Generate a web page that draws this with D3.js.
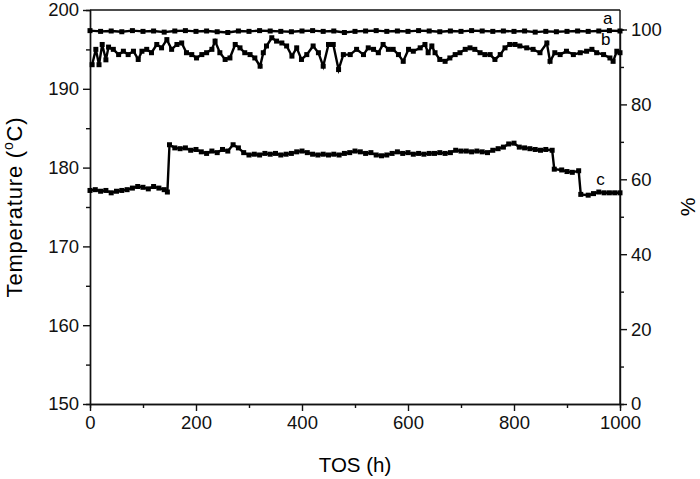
<!DOCTYPE html>
<html>
<head>
<meta charset="utf-8">
<script src="https://cdn.jsdelivr.net/npm/d3@7"></script>
<style>
  body { margin: 0; background: #fff; }
  svg { font-family: "Liberation Sans", Arial, sans-serif; }
  .axis text { font-size: 18.5px; fill: #111; }
  .axis path, .axis line { stroke: #111; stroke-width: 1.4; }
</style>
</head>
<body>
<svg width="700" height="479"></svg>
<script>
// series a (%), right axis
var tosA = [0,20,40,60,80,100,120,140,160,180,200,220,240,260,280,300,320,340,360,380,400,420,440,460,480,500,520,540,560,580,600,620,640,660,680,700,720,740,760,780,800,820,840,860,880,900,920,940,960,980,1000];
var valA = [99.7,99.5,99.6,99.4,99.7,99.5,99.6,99.3,99.6,99.7,99.5,99.6,99.4,99.2,99.6,99.5,99.7,99.6,99.5,99.4,99.6,99.7,99.5,99.6,99.2,99.5,99.6,99.7,99.5,99.6,99.5,99.7,99.6,99.4,99.6,99.5,99.7,99.6,99.5,99.6,99.5,99.6,99.3,99.5,99.4,99.5,99.6,99.5,99.6,99.7,99.6];

// series b (%), right axis
var tosB = [4,11,17,23,30,35,44,54,63,72,82,91,98,107,116,126,135,145,154,164,173,182,192,201,211,220,230,236,245,255,264,274,283,292,302,311,321,327,333,343,352,362,371,381,390,399,409,421,431,440,450,459,469,478,491,503,516,525,535,544,553,563,572,582,591,601,610,623,632,638,645,651,660,670,679,689,698,708,717,726,736,745,755,764,774,783,792,802,811,824,836,849,862,868,877,887,899,912,925,937,947,956,969,981,987,994,1000];
var valB = [90.6,94.7,90.6,96.0,91.9,95.3,94.7,93.3,94.2,93.3,94.2,92.0,94.2,94.7,93.8,96.0,95.1,97.3,94.7,96.0,96.4,93.8,93.3,92.4,93.3,93.8,94.7,96.9,93.8,92.0,92.4,96.0,95.1,93.8,93.3,92.4,90.2,93.8,95.6,97.8,96.9,96.4,95.6,92.9,95.1,92.0,93.3,95.6,93.8,90.2,96.0,96.0,89.3,93.3,93.3,94.7,93.3,95.1,94.7,93.8,96.0,94.7,94.7,93.3,91.5,94.7,94.2,95.1,96.0,93.8,95.6,93.8,92.0,91.5,92.4,93.3,93.8,94.7,95.1,94.7,93.8,93.3,93.3,92.0,93.3,95.1,96.0,96.0,95.6,95.1,94.7,93.8,96.4,91.5,93.8,93.3,94.2,93.3,93.8,94.2,94.7,93.8,93.3,92.4,91.5,94.2,93.8];

// series c (temperature, left axis)
var tosC = [0,10,20,30,40,50,60,70,80,90,100,110,120,130,140,146,150,160,170,180,190,200,210,220,230,240,250,260,270,280,290,300,310,320,330,340,350,360,370,380,390,400,410,420,430,440,450,460,470,480,490,500,510,520,530,540,550,560,570,580,590,600,610,620,630,640,650,660,670,680,690,700,710,720,730,740,750,760,770,780,790,800,810,820,830,840,850,860,872,876,890,900,910,922,926,940,950,960,970,980,990,1000];
var valC = [177.1,177.2,177.0,177.1,176.8,177.0,177.1,177.2,177.4,177.6,177.5,177.3,177.6,177.4,177.2,176.9,182.9,182.5,182.4,182.5,182.2,182.3,182.0,181.8,182.1,181.9,182.3,182.1,182.9,182.5,181.9,181.6,181.7,181.6,181.8,181.7,181.8,181.6,181.7,181.8,182.0,182.1,181.9,181.7,181.6,181.7,181.6,181.7,181.6,181.8,181.9,182.1,182.0,181.8,181.9,181.6,181.5,181.6,181.8,182.0,181.8,181.9,181.7,181.8,181.7,181.8,181.8,181.9,181.8,181.9,182.2,182.1,182.1,182.0,182.1,182.0,181.9,182.2,182.4,182.6,183.0,183.1,182.6,182.5,182.4,182.3,182.2,182.3,182.2,179.8,179.7,179.5,179.4,179.6,176.6,176.5,176.7,176.9,176.8,176.8,176.8,176.8];

var tempTicks = [150,160,170,180,190,200];
var pctTicks = [0,20,40,60,80,100];
var tosTicks = [0,200,400,600,800,1000];

var svg = d3.select("svg"),
    mLeft = 90, mRight = 620, mTop = 10, mBottom = 404;

var x = d3.scaleLinear().domain([0, 1000]).range([mLeft, mRight]);
var yT = d3.scaleLinear().domain([150, 200]).range([mBottom, mTop]);
var yP = d3.scaleLinear().domain([0, 100]).range([mBottom, 29.5]);

// frame top
svg.append("line")
    .attr("x1", mLeft).attr("x2", mRight)
    .attr("y1", mTop).attr("y2", mTop)
    .attr("stroke", "#111").attr("stroke-width", 1.4);

// minor ticks
svg.append("g").attr("class", "axis")
    .attr("transform", "translate(0," + mBottom + ")")
    .call(d3.axisBottom(x).tickValues([100,300,500,700,900]).tickSize(4).tickFormat(""));
svg.append("g").attr("class", "axis")
    .attr("transform", "translate(" + mLeft + ",0)")
    .call(d3.axisLeft(yT).tickValues([155,165,175,185,195]).tickSize(4).tickFormat(""));
svg.append("g").attr("class", "axis")
    .attr("transform", "translate(" + mRight + ",0)")
    .call(d3.axisRight(yP).tickValues([10,30,50,70,90]).tickSize(4).tickFormat(""));

// major axes
svg.append("g").attr("class", "axis")
    .attr("transform", "translate(0," + mBottom + ")")
    .call(d3.axisBottom(x).tickValues(tosTicks).tickSize(7).tickSizeOuter(0).tickPadding(5).tickFormat(d3.format("d")));
svg.append("g").attr("class", "axis")
    .attr("transform", "translate(" + mLeft + ",0)")
    .call(d3.axisLeft(yT).tickValues(tempTicks).tickSize(7).tickSizeOuter(0).tickPadding(4));
var ra = svg.append("g").attr("class", "axis")
    .attr("transform", "translate(" + mRight + ",0)")
    .call(d3.axisRight(yP).tickValues(pctTicks).tickSize(7).tickSizeOuter(0).tickPadding(4));
ra.select(".domain").attr("d", "M0," + mTop + "V" + mBottom);

// series
function drawSeries(xs, ys, yScale) {
  var pts = xs.map(function(d, i) { return [x(d), yScale(ys[i])]; });
  svg.append("path")
      .attr("d", d3.line()(pts))
      .attr("fill", "none")
      .attr("stroke", "#000")
      .attr("stroke-width", 2.4);
  svg.append("g").selectAll("rect")
      .data(pts)
      .enter().append("rect")
      .attr("x", function(d) { return d[0] - 2.5; })
      .attr("y", function(d) { return d[1] - 2.5; })
      .attr("width", 5).attr("height", 5)
      .attr("fill", "#000");
}
drawSeries(tosA, valA, yP);
drawSeries(tosB, valB, yP);
drawSeries(tosC, valC, yT);

// series labels
svg.append("text").attr("x", x(968)).attr("y", yP(101.5)).attr("font-size", 17).text("a");
svg.append("text").attr("x", x(964)).attr("y", yP(95.8)).attr("font-size", 17).text("b");
svg.append("text").attr("x", x(955)).attr("y", yT(177.8)).attr("font-size", 17).text("c");

// axis titles
svg.append("text")
    .attr("x", (mLeft + mRight) / 2).attr("y", 472)
    .attr("text-anchor", "middle").attr("font-size", 20.5)
    .text("TOS (h)");
var yt = svg.append("text")
    .attr("transform", "translate(22," + ((mTop + mBottom) / 2) + ") rotate(-90)")
    .attr("text-anchor", "middle").attr("font-size", 22)
    .attr("letter-spacing", 0.8);
yt.append("tspan").text("Temperature (");
yt.append("tspan").attr("dy", -9).attr("font-size", 14).text("o");
yt.append("tspan").attr("dy", 9).text("C)");
svg.append("text")
    .attr("transform", "translate(695," + ((mTop + mBottom) / 2) + ") rotate(-90)")
    .attr("text-anchor", "middle").attr("font-size", 21)
    .text("%");
</script>
</body>
</html>
